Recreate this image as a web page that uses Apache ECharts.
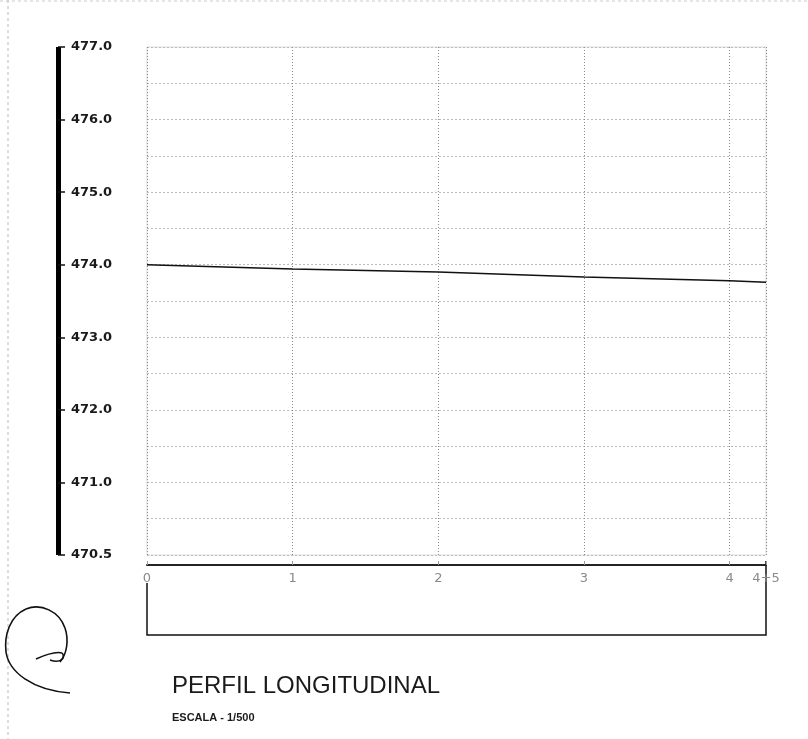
<!DOCTYPE html>
<html>
<head>
<meta charset="utf-8">
<script src="https://cdn.jsdelivr.net/npm/echarts@6/dist/echarts.min.js"></script>
<style>
  html, body { margin: 0; padding: 0; background: #fff; }
  #chart { width: 808px; height: 739px; }
</style>
</head>
<body>
<div id="chart"></div>
<script>
// ---- data ----
var stations   = [0, 1, 2, 3, 4, 4.25];
var elevations = [474.00, 473.94, 473.90, 473.83, 473.78, 473.76];

var xTickValues = [0, 1, 2, 3, 4, 4.25];
var xTickLabels = ['0', '1', '2', '3', '4', '4+5'];

// elevation scale bar labels (bottom datum written as 470.5 on the drawing)
var yTickValues = [470, 471, 472, 473, 474, 475, 476, 477];
var yTickLabels = ['470.5', '471.0', '472.0', '473.0', '474.0', '475.0', '476.0', '477.0'];

var titleText = 'PERFIL LONGITUDINAL';
var scaleText = 'ESCALA - 1/500';

// ---- chart ----
var chart = echarts.init(document.getElementById('chart'), null, { renderer: 'canvas' });

var lineData = stations.map(function (s, i) { return [s, elevations[i]]; });

function lookup(vals, labels, v) {
  for (var i = 0; i < vals.length; i++) {
    if (Math.abs(vals[i] - v) < 1e-6) return labels[i];
  }
  return '';
}

var option = {
  animation: false,
  backgroundColor: '#ffffff',
  grid: {
    left: 147, right: 42, top: 47, bottom: 184,
    show: true, borderColor: '#dcdcdc', borderWidth: 1
  },
  xAxis: {
    type: 'value', min: 0, max: 4.25, interval: 1,
    offset: 10,
    axisLine: { show: true, lineStyle: { color: '#222', width: 2, type: [3, 1] } },
    axisTick: { show: true, inside: true, length: 4, lineStyle: { color: '#999' },
                customValues: xTickValues },
    axisLabel: {
      show: true, color: '#8a8a8a', fontSize: 13, margin: 7,
      fontFamily: 'DejaVu Sans',
      customValues: xTickValues,
      formatter: function (v) { return lookup(xTickValues, xTickLabels, v); }
    },
    splitLine: { show: true, lineStyle: { color: '#8a8a8a', width: 1, type: [1, 2] } }
  },
  yAxis: [
    {
      type: 'value', min: 470, max: 477, interval: 0.5,
      axisLine: { show: false },
      axisTick: { show: false },
      axisLabel: { show: false },
      splitLine: { show: true, lineStyle: { color: '#bdbdbd', width: 1, type: [2, 2] } }
    },
    {
      type: 'value', min: 470, max: 477, interval: 1,
      position: 'left', offset: 89,
      axisLine: { show: true, lineStyle: { color: '#000', width: 5, cap: 'butt' } },
      axisTick: { show: true, inside: true, length: 7, lineStyle: { color: '#111', width: 1.5 } },
      axisLabel: {
        show: true, inside: true, margin: 13,
        color: '#1a1a1a', fontSize: 13, fontWeight: 'bold',
        fontFamily: 'DejaVu Sans',
        padding: [0, 0, 5, 0],
        formatter: function (v) { return lookup(yTickValues, yTickLabels, v); }
      },
      splitLine: { show: false }
    }
  ],
  series: [
    {
      type: 'line',
      xAxisIndex: 0, yAxisIndex: 0,
      data: lineData,
      showSymbol: false,
      symbol: 'none',
      lineStyle: { color: '#111', width: 1.5 },
      z: 5
    }
  ]
};

chart.setOption(option);

// decorations positioned from the axis scales
var p0 = chart.convertToPixel({ xAxisIndex: 0, yAxisIndex: 0 }, [0, 470]);
var p1 = chart.convertToPixel({ xAxisIndex: 0, yAxisIndex: 0 }, [4.25, 470]);
var axisY = p0[1] + 10;

function curve(x1, y1, cx1, cy1, cx2, cy2, x2, y2) {
  return {
    type: 'bezierCurve',
    shape: { x1: x1, y1: y1, x2: x2, y2: y2, cpx1: cx1, cpy1: cy1, cpx2: cx2, cpy2: cy2 },
    style: { stroke: '#111', lineWidth: 1.6, fill: null }
  };
}

chart.setOption({
  graphic: [
    // bracket under the profile
    {
      type: 'polyline',
      shape: { points: [[p0[0], axisY + 18], [p0[0], axisY + 70], [p1[0], axisY + 70], [p1[0], axisY - 4]] },
      style: { stroke: '#111', lineWidth: 1.5, fill: null }
    },
    // sheet frame
    {
      type: 'line', shape: { x1: 8, y1: 0, x2: 8, y2: 739 },
      style: { stroke: '#bbb', lineWidth: 1, lineDash: [3, 3] }
    },
    {
      type: 'line', shape: { x1: 0, y1: 1, x2: 808, y2: 1 },
      style: { stroke: '#ccc', lineWidth: 1, lineDash: [3, 3] }
    },
    // hand-drawn mark
    curve(60, 662, 67, 654, 69, 640, 65, 628),
    curve(65, 628, 59, 611, 41, 603, 26, 609),
    curve(26, 609, 10, 616, 4, 635, 6, 652),
    curve(6, 652, 9, 672, 32, 690, 70, 693),
    curve(36, 659, 45, 655, 55, 651, 62, 653),
    curve(62, 653, 66, 657, 61, 664, 50, 660),
    {
      type: 'text', left: 172, top: 674,
      style: { text: titleText, fill: '#1a1a1a', font: '24px "Liberation Sans", Arial, sans-serif' }
    },
    {
      type: 'text', left: 172, top: 712,
      style: { text: scaleText, fill: '#1a1a1a', font: 'bold 11px "Liberation Sans", Arial, sans-serif' }
    }
  ]
});
</script>
</body>
</html>
